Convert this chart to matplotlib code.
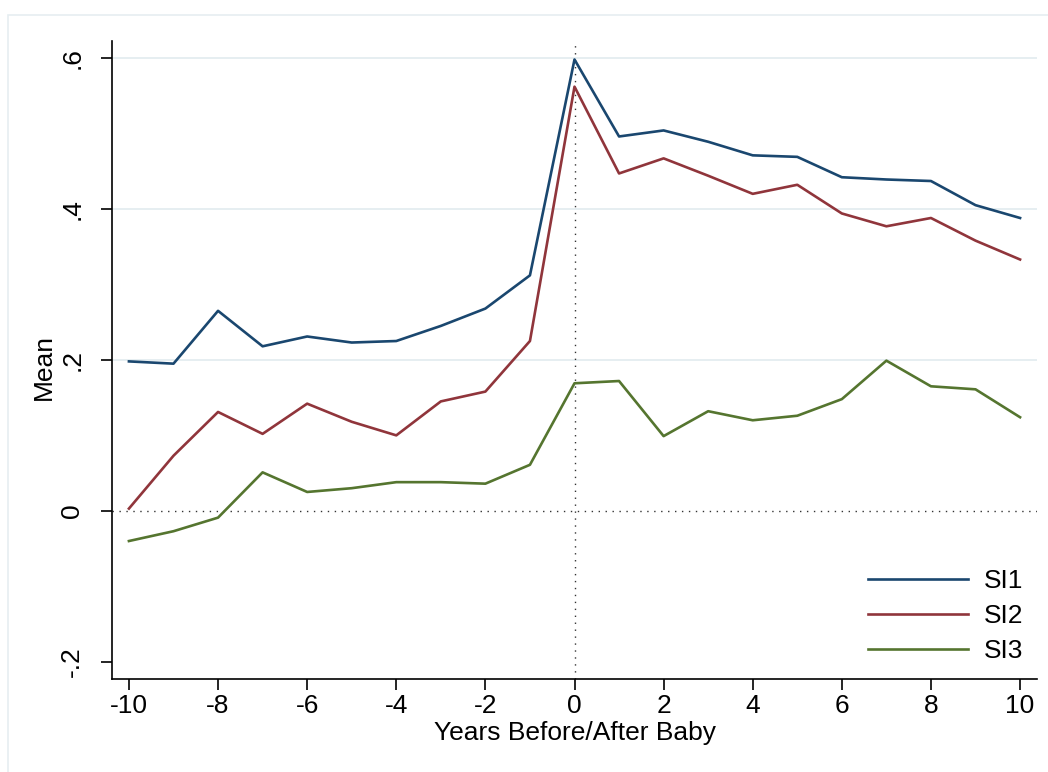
import matplotlib
matplotlib.use("Agg")
import matplotlib.pyplot as plt
from matplotlib.patches import Rectangle

years = list(range(-10, 11))
si1 = [0.198, 0.195, 0.265, 0.218, 0.231, 0.223, 0.225, 0.245, 0.268, 0.312, 0.598,
       0.496, 0.504, 0.489, 0.471, 0.469, 0.442, 0.439, 0.437, 0.405, 0.388]
si2 = [0.003, 0.073, 0.131, 0.102, 0.142, 0.118, 0.100, 0.145, 0.158, 0.225, 0.562,
       0.447, 0.467, 0.444, 0.420, 0.432, 0.394, 0.377, 0.388, 0.358, 0.333]
si3 = [-0.040, -0.027, -0.009, 0.051, 0.025, 0.030, 0.038, 0.038, 0.036, 0.061, 0.169,
       0.172, 0.099, 0.132, 0.120, 0.126, 0.148, 0.199, 0.165, 0.161, 0.124]
series_names = ["SI1", "SI2", "SI3"]
series_colors = ["#1A476F", "#90353B", "#55752F"]
xticks = [-10, -8, -6, -4, -2, 0, 2, 4, 6, 8, 10]
yticks = [-0.2, 0, 0.2, 0.4, 0.6]
ytick_labels = ["-.2", "0", ".2", ".4", ".6"]
grid_vals = [0.2, 0.4, 0.6]

plt.rcParams['font.family'] = ['Liberation Sans', 'DejaVu Sans']
FS = 19

W, H = 1048, 772
fig = plt.figure(figsize=(W / 100, H / 100), dpi=100)
fig.patch.set_facecolor('white')

# outer frame
fig.patches.append(Rectangle((8 / W, -0.1), 1.2, 1 - 15 / H + 0.1,
                             transform=fig.transFigure, fill=False,
                             edgecolor='#E6EEF1', linewidth=1.2, zorder=0))

ax = fig.add_axes([112 / W, 1 - 679 / H, (1037 - 112) / W, (679 - 41) / H])
ax.set_facecolor('white')
ax.set_xlim(-10.38, 10.38)
ax.set_ylim(-0.2228, 0.6225)

for g in grid_vals:
    ax.axhline(g, color='#E6EEF1', linewidth=1.4, zorder=0)

ax.axhline(0, color='#333333', linewidth=1.0, linestyle=(0, (1, 4)), zorder=1)
ax.axvline(0, color='#333333', linewidth=1.0, linestyle=(0, (1, 4)), zorder=1)

for vals, name, col in zip([si1, si2, si3], series_names, series_colors):
    ax.plot(years, vals, color=col, linewidth=1.9, label=name, zorder=3)

for s in ['top', 'right']:
    ax.spines[s].set_visible(False)
for s in ['left', 'bottom']:
    ax.spines[s].set_linewidth(1.2)
    ax.spines[s].set_color('black')

ax.set_xticks(xticks)
ax.set_xticklabels([str(v) for v in xticks])
ax.set_yticks(yticks)
ax.set_yticklabels(ytick_labels)
ax.tick_params(axis='both', direction='out', length=8, width=1.2, labelsize=FS, color='black')
ax.tick_params(axis='x', pad=3)
ax.tick_params(axis='y', pad=12)
for lab in ax.get_yticklabels():
    lab.set_rotation(90)
    lab.set_va('center')
    lab.set_ha('right')

fig.text(575 / W, 1 - 740 / H, "Years Before/After Baby", ha='center', va='baseline', fontsize=FS)
fig.text(44 / W, 1 - 367 / H, "Mean", ha='center', va='center', rotation=90, fontsize=FS)

leg = ax.legend(loc='center left', bbox_to_anchor=(868 / W, 1 - 616 / H),
                bbox_transform=fig.transFigure, frameon=False, fontsize=FS,
                handlelength=3.8, handletextpad=0.6, labelspacing=0.42,
                borderpad=0, borderaxespad=0)

fig.savefig("out.png", dpi=100)
